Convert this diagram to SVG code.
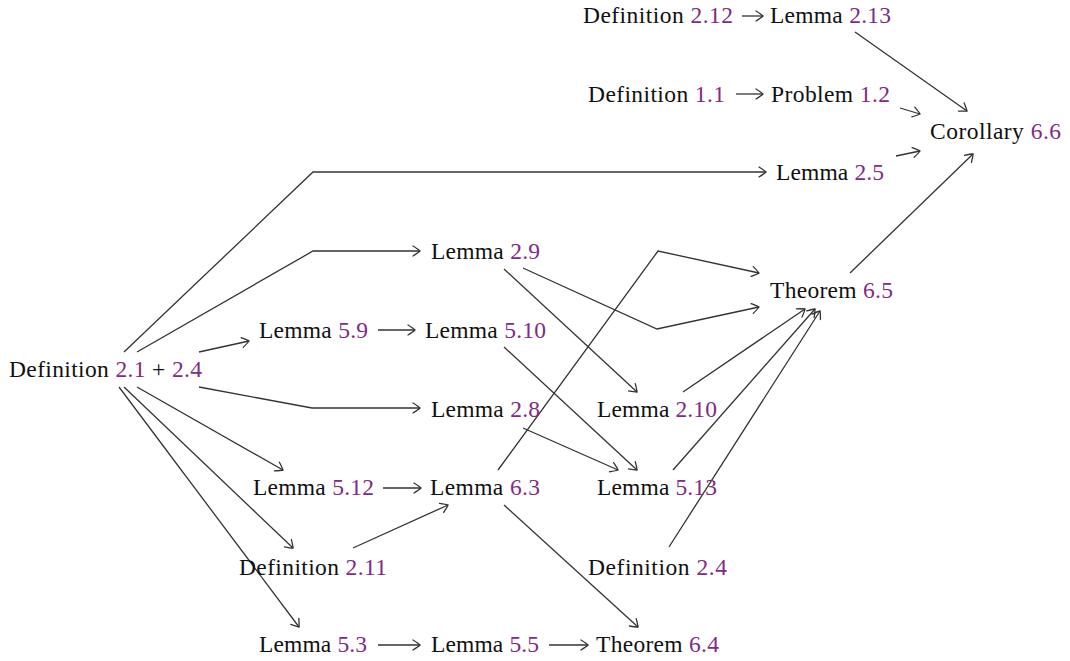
<svg xmlns="http://www.w3.org/2000/svg" width="1070" height="661" viewBox="0 0 1070 661">
<style>
text{font-family:"Liberation Serif","DejaVu Serif",serif;font-size:23.5px;fill:#111}
.n{fill:#822a85}
.c path,.c line{fill:none;stroke:#333;stroke-width:1.3;marker-end:url(#ah)}
</style>
<defs>
<marker id="ah" markerUnits="userSpaceOnUse" markerWidth="14" markerHeight="14" refX="0" refY="0" viewBox="-8 -7 10 14" orient="auto" overflow="visible">
<path d="M-7,-5 Q-1.5,-1.5 0,0 Q-1.5,1.5 -7,5" fill="none" stroke="#333" stroke-width="1.3" stroke-linecap="round"/>
</marker>
</defs>
<rect width="1070" height="661" fill="#fff"/>
<g class="c" id="connectors">
<line x1="742" y1="16" x2="763" y2="16"/>
<line x1="736" y1="94" x2="763" y2="94"/>
<line x1="855" y1="32" x2="967" y2="111"/>
<line x1="900" y1="108" x2="920" y2="114"/>
<line x1="896" y1="156" x2="920" y2="151"/>
<line x1="850" y1="273" x2="973" y2="154"/>
<path d="M124,352 L313,172 L766,172"/>
<path d="M137,352 L313,251 L420,251"/>
<line x1="199" y1="352" x2="249" y2="341"/>
<path d="M199,387 L312,408 L420,408"/>
<line x1="137" y1="387" x2="283" y2="470"/>
<line x1="124" y1="387" x2="293" y2="548"/>
<line x1="119" y1="387" x2="299" y2="627"/>
<line x1="378" y1="330" x2="415" y2="330"/>
<line x1="383" y1="488" x2="421" y2="488"/>
<line x1="353" y1="548" x2="448" y2="505"/>
<line x1="378" y1="645" x2="420" y2="645"/>
<line x1="549" y1="645" x2="588" y2="645"/>
<line x1="504" y1="505" x2="638" y2="627"/>
<path d="M498,470 L658,251 L759,273"/>
<path d="M523,268 L657,329 L759,307"/>
<line x1="504" y1="269" x2="637" y2="392"/>
<line x1="504" y1="347" x2="637" y2="470"/>
<line x1="523" y1="428" x2="618" y2="470"/>
<line x1="683" y1="392" x2="805" y2="309"/>
<line x1="673" y1="470" x2="815" y2="309"/>
<line x1="669" y1="547" x2="820" y2="311"/>
</g>
<g id="def212"><text x="583" y="23" textLength="150" lengthAdjust="spacing">Definition <tspan class="n">2.12</tspan></text></g>
<g id="lem213"><text x="770" y="23" textLength="121" lengthAdjust="spacing">Lemma <tspan class="n">2.13</tspan></text></g>
<g id="def11"><text x="588" y="102" textLength="137" lengthAdjust="spacing">Definition <tspan class="n">1.1</tspan></text></g>
<g id="prob12"><text x="771" y="102" textLength="119" lengthAdjust="spacing">Problem <tspan class="n">1.2</tspan></text></g>
<g id="cor66"><text x="930" y="139" textLength="131" lengthAdjust="spacing">Corollary <tspan class="n">6.6</tspan></text></g>
<g id="lem25"><text x="776" y="180" textLength="108" lengthAdjust="spacing">Lemma <tspan class="n">2.5</tspan></text></g>
<g id="lem29"><text x="431" y="259" textLength="109" lengthAdjust="spacing">Lemma <tspan class="n">2.9</tspan></text></g>
<g id="thm65"><text x="770" y="298" textLength="123" lengthAdjust="spacing">Theorem <tspan class="n">6.5</tspan></text></g>
<g id="lem59"><text x="259" y="338" textLength="109" lengthAdjust="spacing">Lemma <tspan class="n">5.9</tspan></text></g>
<g id="lem510"><text x="425" y="338" textLength="121" lengthAdjust="spacing">Lemma <tspan class="n">5.10</tspan></text></g>
<g id="def21"><text x="9" y="377" textLength="193" lengthAdjust="spacing">Definition <tspan class="n">2.1</tspan> + <tspan class="n">2.4</tspan></text></g>
<g id="lem28"><text x="431" y="417" textLength="109" lengthAdjust="spacing">Lemma <tspan class="n">2.8</tspan></text></g>
<g id="lem210"><text x="597" y="417" textLength="120" lengthAdjust="spacing">Lemma <tspan class="n">2.10</tspan></text></g>
<g id="lem512"><text x="253" y="495" textLength="121" lengthAdjust="spacing">Lemma <tspan class="n">5.12</tspan></text></g>
<g id="lem63"><text x="430" y="495" textLength="110" lengthAdjust="spacing">Lemma <tspan class="n">6.3</tspan></text></g>
<g id="lem513"><text x="597" y="495" textLength="120" lengthAdjust="spacing">Lemma <tspan class="n">5.13</tspan></text></g>
<g id="def211"><text x="239" y="575" textLength="148" lengthAdjust="spacing">Definition <tspan class="n">2.11</tspan></text></g>
<g id="def24"><text x="588" y="575" textLength="139" lengthAdjust="spacing">Definition <tspan class="n">2.4</tspan></text></g>
<g id="lem53"><text x="259" y="652" textLength="108" lengthAdjust="spacing">Lemma <tspan class="n">5.3</tspan></text></g>
<g id="lem55"><text x="431" y="652" textLength="108" lengthAdjust="spacing">Lemma <tspan class="n">5.5</tspan></text></g>
<g id="thm64"><text x="596" y="652" textLength="123" lengthAdjust="spacing">Theorem <tspan class="n">6.4</tspan></text></g>
</svg>
